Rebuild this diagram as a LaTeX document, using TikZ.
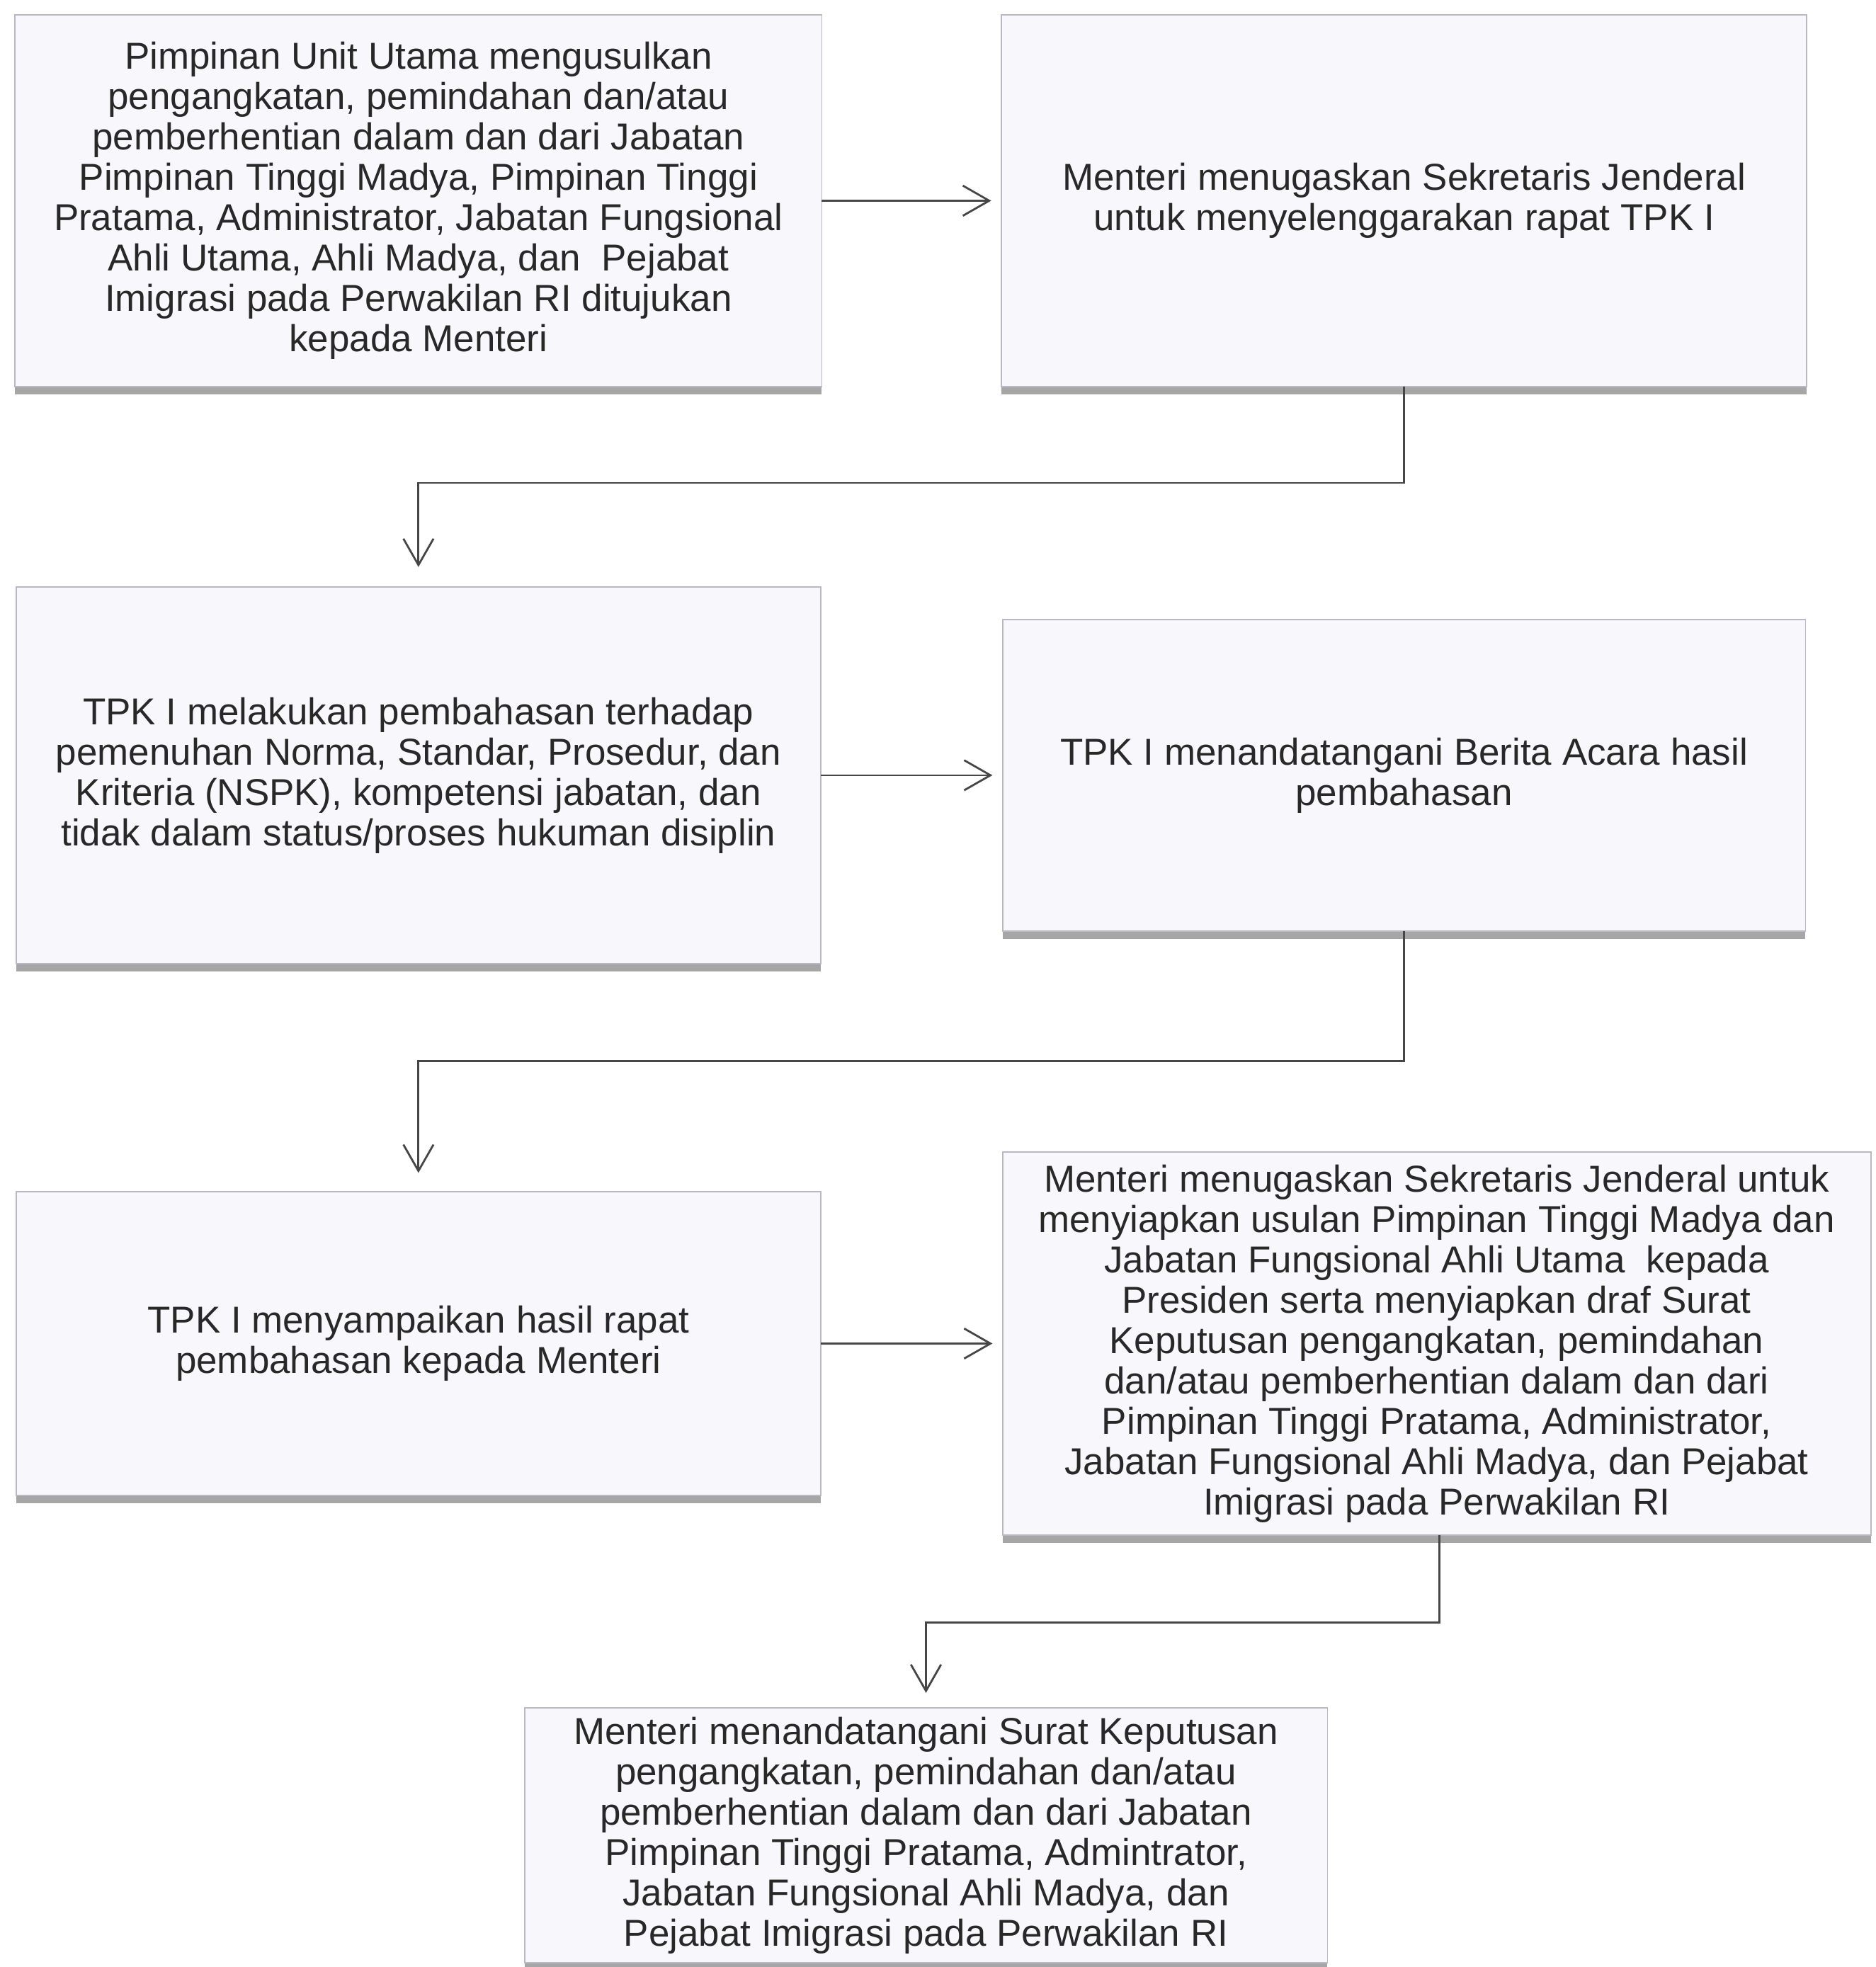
\documentclass[tikz,border=0pt]{standalone}
\usepackage{fontspec}
\setmainfont{Liberation Sans}
\usepackage{xcolor}
\usepackage{tikz}
\usetikzlibrary{arrows.meta,positioning,shadows}
\definecolor{Xtext}{RGB}{40,40,40}
\definecolor{Xline}{RGB}{70,70,70}
\definecolor{Xfill}{RGB}{248,247,251}
\definecolor{Xedge}{RGB}{185,185,195}
\tikzset{
  flow/.style={-{Straight Barb[length=4.2mm,width=4.8mm]}, line width=0.9pt, draw=Xline},
  stepbox/.style={draw=Xedge, fill=Xfill, line width=0.6pt, align=center, text=Xtext,
    inner sep=4pt, outer sep=0pt, font=\fontsize{17}{18.3}\selectfont,
    drop shadow={shadow xshift=0pt, shadow yshift=-1.3mm, opacity=0.6, fill=Xline!80}}
}

\begin{document}
\begin{tikzpicture}
  \useasboundingbox (0,0) rectangle (29.9,-31.36);
  \node[stepbox, minimum width=12.86cm, minimum height=5.92cm] (usul) at (6.67,-3.2)
    {Pimpinan Unit Utama mengusulkan\\
     pengangkatan, pemindahan dan/atau\\
     pemberhentian dalam dan dari Jabatan\\
     Pimpinan Tinggi Madya, Pimpinan Tinggi\\
     Pratama, Administrator, Jabatan Fungsional\\
     Ahli Utama, Ahli Madya, dan\ \ Pejabat\\
     Imigrasi pada Perwakilan RI ditujukan\\
     kepada Menteri};
  \node[stepbox, minimum width=12.84cm, minimum height=5.92cm, right=2.86cm of usul] (tugas)
    {Menteri menugaskan Sekretaris Jenderal\\
     untuk menyelenggarakan rapat TPK I};
  \node[stepbox, minimum width=12.82cm, minimum height=6cm, below=3.2cm of usul] (bahas)
    {TPK I melakukan pembahasan terhadap\\
     pemenuhan Norma, Standar, Prosedur, dan\\
     Kriteria (NSPK), kompetensi jabatan, dan\\
     tidak dalam status/proses hukuman disiplin};
  \node[stepbox, minimum width=12.8cm, minimum height=4.96cm, right=2.9cm of bahas] (berita)
    {TPK I menandatangani Berita Acara hasil\\
     pembahasan};
  \node[stepbox, minimum width=12.82cm, minimum height=4.84cm, below=3.64cm of bahas] (hasil)
    {TPK I menyampaikan hasil rapat\\
     pembahasan kepada Menteri};
  \node[stepbox, minimum width=13.84cm, minimum height=6.1cm, right=2.9cm of hasil] (siap)
    {Menteri menugaskan Sekretaris Jenderal untuk\\
     menyiapkan usulan Pimpinan Tinggi Madya dan\\
     Jabatan Fungsional Ahli Utama\ \ kepada\\
     Presiden serta menyiapkan draf Surat\\
     Keputusan pengangkatan, pemindahan\\
     dan/atau pemberhentian dalam dan dari\\
     Pimpinan Tinggi Pratama, Administrator,\\
     Jabatan Fungsional Ahli Madya, dan Pejabat\\
     Imigrasi pada Perwakilan RI};
  \node[stepbox, minimum width=12.8cm, minimum height=4.06cm] (sk) at (14.76,-29.26)
    {Menteri menandatangani Surat Keputusan\\
     pengangkatan, pemindahan dan/atau\\
     pemberhentian dalam dan dari Jabatan\\
     Pimpinan Tinggi Pratama, Admintrator,\\
     Jabatan Fungsional Ahli Madya, dan\\
     Pejabat Imigrasi pada Perwakilan RI};

  \draw[flow, shorten >=1.6mm] (usul) -- (tugas);
  \draw[flow, shorten >=3.2mm] (tugas.south) -- ++(0,-1.54) -| (bahas.north);
  \draw[flow, shorten >=1.6mm] (bahas.east |- berita.west) -- (berita.west);
  \draw[flow, shorten >=3mm] (berita.south) -- ++(0,-2.08) -| (hasil.north);
  \draw[flow, shorten >=1.6mm] (hasil) -- (siap);
  \draw[flow, shorten >=2.4mm] ([xshift=0.04cm]siap.south) -- ++(0,-1.4) -| (sk.north);
\end{tikzpicture}
\end{document}
